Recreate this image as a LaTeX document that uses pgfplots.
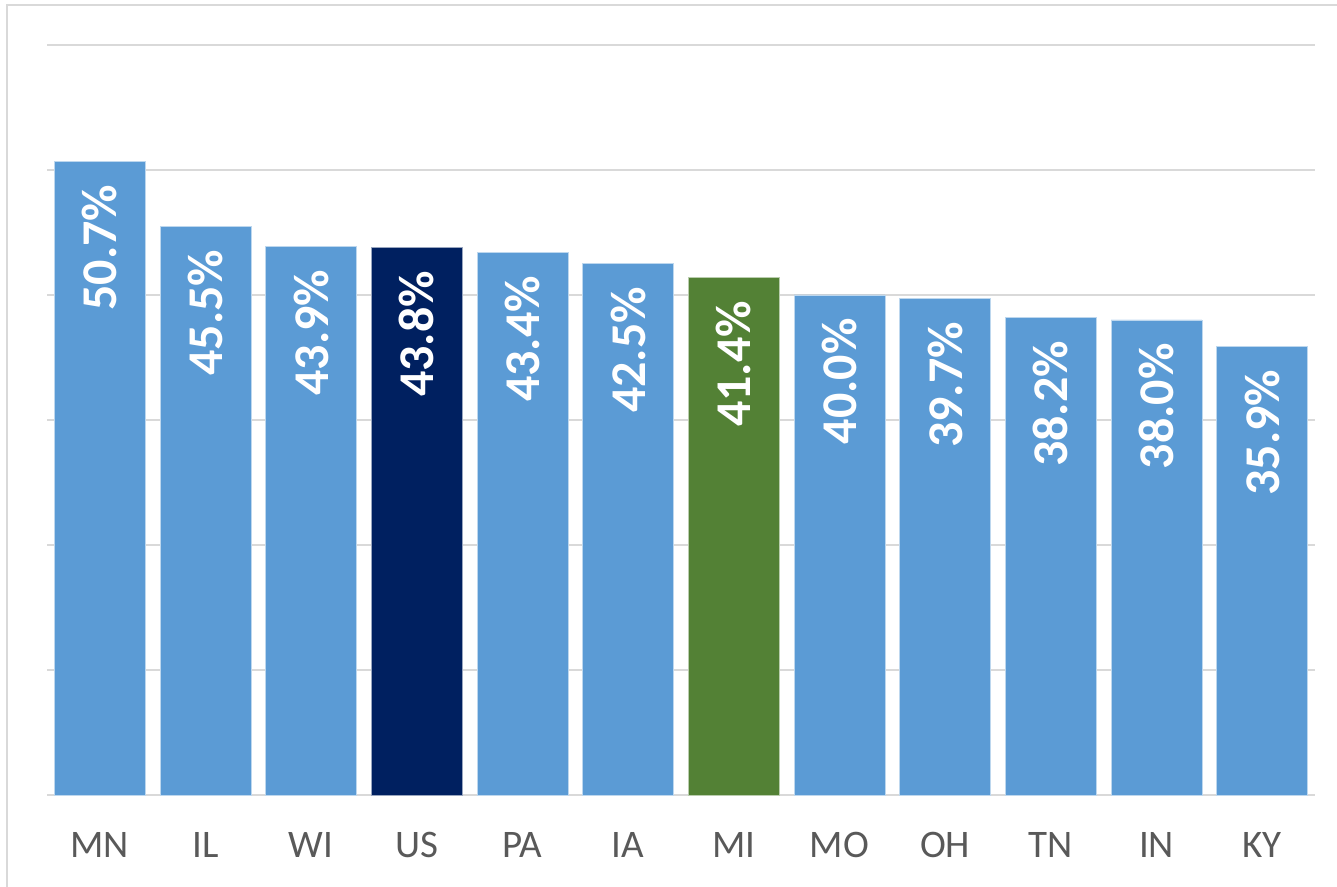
\documentclass[border=0pt]{standalone}
\usepackage{pgfplots}
\pgfplotsset{compat=1.18}
\usepackage{fontspec}
\setmainfont{Carlito}
\definecolor{barblue}{HTML}{5B9BD5}
\definecolor{barnavy}{HTML}{002060}
\definecolor{bargreen}{HTML}{538135}
\definecolor{gridgray}{HTML}{D9D9D9}
\definecolor{ticktext}{HTML}{595959}
\begin{document}
\begin{tikzpicture}
\begin{axis}[
  at={(0,0)}, anchor=south west,
  scale only axis, width=634pt, height=375pt,
  xmin=-0.5, xmax=11.5, ymin=0, ymax=60,
  /pgf/number format/assume math mode=true,
  ybar, bar width=0.86, bar shift=0pt,
  axis line style={draw=none},
  tick style={draw=none},
  major tick length=0pt,
  ytick={0,10,20,30,40,50,60},
  yticklabels={},
  ymajorgrids,
  grid style={gridgray, line width=1.4pt},
  xtick={0,1,2,3,4,5,6,7,8,9,10,11},
  xticklabels={MN,IL,WI,US,PA,IA,MI,MO,OH,TN,IN,KY},
  xticklabel style={inner sep=0pt, anchor=north, yshift=-18.5pt,
    font=\fontsize{19.5}{22}\selectfont, text=ticktext},
  nodes near coords={\pgfmathprintnumber[fixed,precision=1,fixed zerofill,assume math mode=true]{\pgfplotspointmeta}\%},
  nodes near coords style={yshift=-11.5pt, rotate=90, anchor=east, inner sep=0pt,
    text=white, font=\fontsize{25}{28}\selectfont\bfseries},
  clip=false,
]
\addplot[fill=barblue, draw=white!60!barblue, line width=0.4pt] coordinates {
  (0,50.7) (1,45.5) (2,43.9) (4,43.4) (5,42.5) (7,40.0) (8,39.7) (9,38.2) (10,38.0) (11,35.9)
};
\addplot[fill=barnavy, draw=white!60!barnavy, line width=0.4pt] coordinates {
  (3,43.8)
};
\addplot[fill=bargreen, draw=white!60!bargreen, line width=0.4pt] coordinates {
  (6,41.4)
};
\end{axis}
\draw[gridgray, line width=1pt] (-20pt,-46pt) -- (-20pt,395pt) -- (645pt,395pt);
\pgfresetboundingbox
\path[use as bounding box] (-23.5pt,-46pt) rectangle (645pt,397.5pt);
\end{tikzpicture}
\end{document}
